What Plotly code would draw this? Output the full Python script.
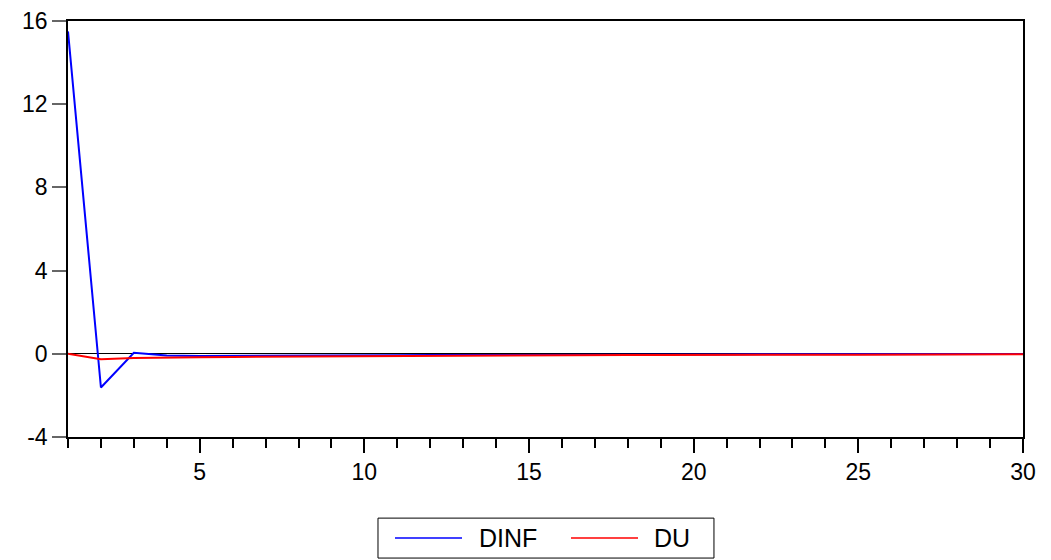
import plotly.graph_objects as go

periods = list(range(1, 31))
dinf = [15.5, -1.62, 0.05, -0.08, -0.10, -0.10, -0.09, -0.09, -0.08, -0.07,
        -0.07, -0.06, -0.06, -0.05, -0.05, -0.04, -0.04, -0.03, -0.03, -0.03,
        -0.03, -0.02, -0.02, -0.02, -0.02, -0.01, -0.01, -0.01, -0.01, -0.01]
du = [0.0, -0.26, -0.20, -0.17, -0.16, -0.15, -0.14, -0.13, -0.12, -0.11,
      -0.10, -0.10, -0.09, -0.08, -0.08, -0.07, -0.07, -0.06, -0.06, -0.05,
      -0.05, -0.05, -0.04, -0.04, -0.04, -0.03, -0.03, -0.03, -0.03, -0.02]
y_ticks = [-4, 0, 4, 8, 12, 16]
y_tick_labels = ["-4", "0", "4", "8", "12", "16"]
x_ticks = [5, 10, 15, 20, 25, 30]
series_names = ["DINF", "DU"]
series_colors = ["#0000ff", "#ff0000"]

fig = go.Figure()
for name, vals, col in zip(series_names, [dinf, du], series_colors):
    fig.add_trace(go.Scatter(x=periods, y=vals, mode="lines", name=name,
                             line=dict(color=col, width=2), showlegend=False))

font = "Liberation Sans, Arial, sans-serif"

# custom legend (paper coordinates) to mimic the long legend keys
box_y0, box_y1 = -0.291, -0.195
key_y = (box_y0 + box_y1) / 2
shapes = [dict(type="rect", xref="paper", yref="paper", x0=0.3246, x1=0.6764,
               y0=box_y0, y1=box_y1, line=dict(color="black", width=1),
               fillcolor="white", layer="above")]
annotations = []
key_pos = [(0.3424, 0.4126, 0.4283), (0.5267, 0.5969, 0.6115)]
for (lx0, lx1, tx), name, col in zip(key_pos, series_names, series_colors):
    shapes.append(dict(type="line", xref="paper", yref="paper", x0=lx0, x1=lx1,
                       y0=key_y, y1=key_y, line=dict(color=col, width=1.5)))
    annotations.append(dict(xref="paper", yref="paper", x=tx, y=key_y, text=name,
                            showarrow=False, xanchor="left", yanchor="middle",
                            font=dict(family=font, size=25, color="black")))

fig.update_layout(
    width=1051, height=560,
    margin=dict(l=60, r=36, t=13, b=131),
    plot_bgcolor="white", paper_bgcolor="white",
    font=dict(family=font, size=23, color="black"),
    showlegend=False,
    shapes=shapes, annotations=annotations,
)
fig.update_xaxes(
    range=[1, 30], tickmode="array", tickvals=x_ticks, automargin=False,
    showline=True, linecolor="black", linewidth=1.5, mirror=True,
    ticks="outside", ticklen=14, tickwidth=1.5, tickcolor="black",
    showgrid=False, zeroline=False,
    minor=dict(tickmode="linear", tick0=1, dtick=1, ticks="outside",
               ticklen=9, tickwidth=1.5, tickcolor="black", showgrid=False),
    tickfont=dict(size=23),
)
fig.update_yaxes(
    range=[-4, 16], tickmode="array", tickvals=y_ticks, ticktext=y_tick_labels,
    automargin=False,
    showline=True, linecolor="black", linewidth=1.5, mirror=True,
    ticks="outside", ticklen=14, tickwidth=1.5, tickcolor="#666",
    showgrid=False, zeroline=True, zerolinecolor="black", zerolinewidth=1,
    tickfont=dict(size=23),
)

fig.write_html("out.html")
